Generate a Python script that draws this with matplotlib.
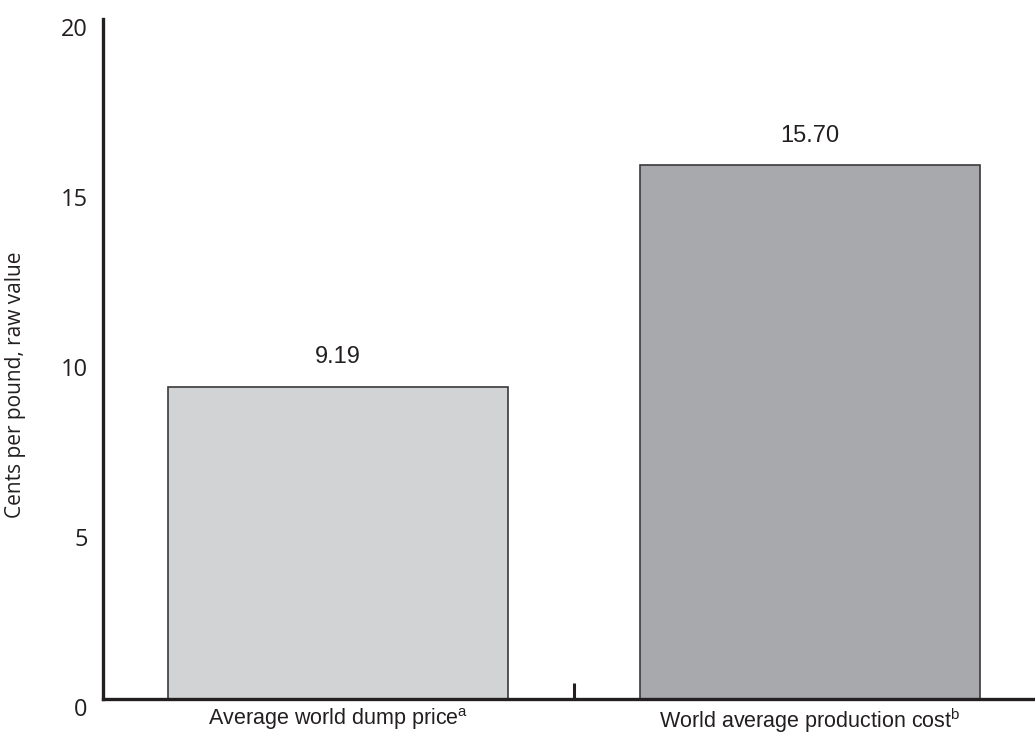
import matplotlib
matplotlib.use("Agg")
import matplotlib.pyplot as plt
import matplotlib.transforms as mtransforms

categories = ["Average world dump price", "World average production cost"]
superscripts = ["a", "b"]
values = [9.19, 15.70]
value_labels = ["9.19", "15.70"]
yticks = [0, 5, 10, 15, 20]

TEXT = "#231f20"
CAT_FONT = "Liberation Sans"
plt.rcParams["mathtext.fontset"] = "custom"
plt.rcParams["mathtext.rm"] = CAT_FONT

fig = plt.figure(figsize=(10.35, 7.34), dpi=100)
ax = fig.add_axes([103 / 1035, 35 / 734, 1 - 103 / 1035, 680 / 734])

positions = [0, 1]
bar_width = 0.721
colors = ["#d1d3d4", "#a7a9ac"]
ax.bar(positions, values, width=bar_width, color=colors, edgecolor="#3a3a3a", linewidth=1.2, zorder=2)

for x, v, lab in zip(positions, values, value_labels):
    ax.annotate(lab, xy=(x, v), xytext=(0, 13), textcoords="offset points",
                ha="center", va="bottom", fontsize=17, color=TEXT,
                family="Liberation Sans")

ax.set_xlim(-0.498, 1.478)
ax.set_ylim(0, 20)

ax.set_yticks(yticks)
ax.set_yticklabels([str(t) for t in yticks], fontsize=17, color=TEXT, family="Open Sans")
ax.tick_params(axis="y", length=0, pad=11)
off = mtransforms.ScaledTranslation(0, -8.5 / 100, fig.dpi_scale_trans)
for lbl in ax.get_yticklabels():
    lbl.set_transform(lbl.get_transform() + off)

ax.set_xticks(positions)
ax.set_xticklabels([f"{c}$^{{\\mathrm{{{s}}}}}$" for c, s in zip(categories, superscripts)],
                   fontsize=15.5, color=TEXT, family=CAT_FONT)
ax.tick_params(axis="x", which="major", length=0, pad=5)
ax.set_xticks([0.5], minor=True)
ax.tick_params(axis="x", which="minor", direction="in", length=11.5, width=2.2, color=TEXT)

ax.set_ylabel("Cents per pound, raw value", fontsize=15, color=TEXT, family="Open Sans")
ax.yaxis.set_label_coords(-0.083, 0.462)

for s in ["top", "right"]:
    ax.spines[s].set_visible(False)
for s in ["left", "bottom"]:
    ax.spines[s].set_linewidth(2.4)
    ax.spines[s].set_color(TEXT)

fig.savefig("out.png", dpi=100)
